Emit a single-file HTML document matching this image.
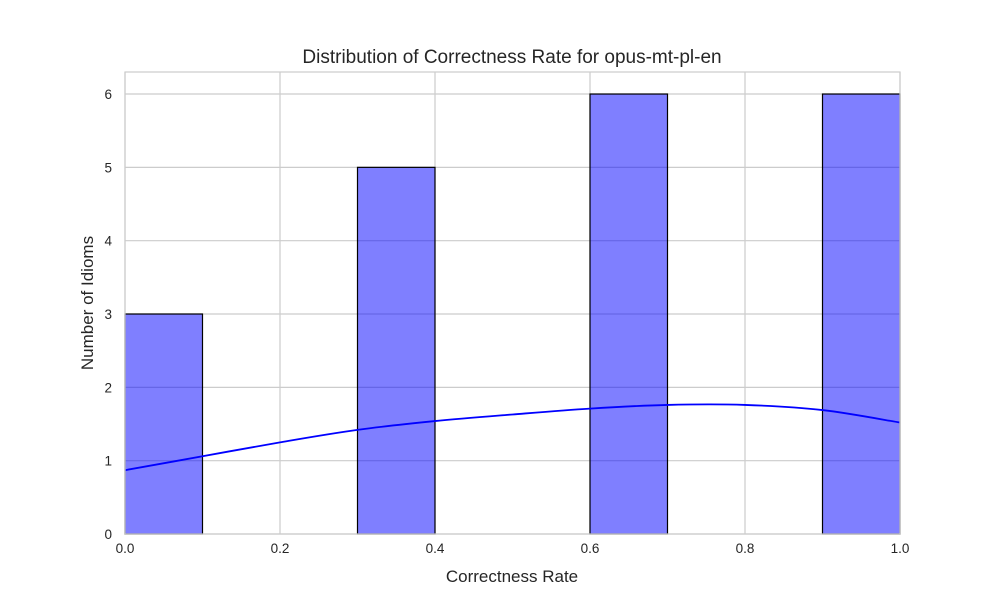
<!DOCTYPE html>
<html><head><meta charset="utf-8"><style>
body{margin:0;background:#fff;font-family:"Liberation Sans",sans-serif;}
</style></head><body>
<svg width="1000" height="600" xmlns="http://www.w3.org/2000/svg">
<rect width="1000" height="600" fill="#fff"/>
<g id="grid"></g>
<g id="bars"></g>
<path id="kde" fill="none" stroke="#0000ff" stroke-width="1.8"/>
<rect x="125" y="72" width="775" height="462" fill="none" stroke="#cccccc" stroke-width="1.2"/>
<g id="ticks" font-size="13.5" fill="#262626"></g>
<text x="512" y="63" font-size="19" text-anchor="middle" fill="#262626">Distribution of Correctness Rate for opus-mt-pl-en</text>
<text x="512" y="582" font-size="17" text-anchor="middle" fill="#262626">Correctness Rate</text>
<text x="93" y="303" font-size="17" text-anchor="middle" fill="#262626" transform="rotate(-90 93 303)">Number of Idioms</text>
</svg>
<script>
const binEdges=[0,0.1,0.2,0.3,0.4,0.5,0.6,0.7,0.8,0.9,1.0];
const counts=[3,0,0,5,0,0,6,0,0,6];
const kdeX=[0,0.1,0.2,0.3,0.4,0.5,0.6,0.7,0.8,0.9,1.0];
const kdeY=[0.87,1.06,1.25,1.42,1.54,1.63,1.71,1.76,1.76,1.69,1.52];
const xTicks=[0,0.2,0.4,0.6,0.8,1.0];
const yTicks=[0,1,2,3,4,5,6];
const X=v=>125+v*775, Y=v=>534-v*73.33;
const ns="http://www.w3.org/2000/svg";
const g=document.getElementById('grid'),b=document.getElementById('bars'),t=document.getElementById('ticks');
function mk(tag,attrs,parent){const e=document.createElementNS(ns,tag);for(const k in attrs)e.setAttribute(k,attrs[k]);parent.appendChild(e);return e;}
xTicks.forEach(v=>{const l=mk('line',{x1:X(v),x2:X(v),y1:72,y2:534,stroke:'#cccccc','stroke-width':1.2},g);

const s=mk('text',{x:X(v),y:553,'text-anchor':'middle'},t);s.textContent=v.toFixed(1);
});
yTicks.forEach(v=>{const l=mk('line',{x1:125,x2:900,y1:Y(v),y2:Y(v),stroke:'#cccccc','stroke-width':1.2},g);

const s=mk('text',{x:112,y:Y(v)+5,'text-anchor':'end'},t);s.textContent=v;
});
counts.forEach((c,i)=>{if(!c)return;const r=mk('rect',{x:X(binEdges[i]),y:Y(c),width:X(binEdges[i+1])-X(binEdges[i]),height:Y(0)-Y(c),fill:'rgba(0,0,255,0.5)',stroke:'#000','stroke-width':1.2},b);
});
const P=kdeX.map((x,i)=>[X(x),Y(kdeY[i])]);
let d='M'+P[0][0]+' '+P[0][1];
for(let i=0;i<P.length-1;i++){const p0=P[Math.max(i-1,0)],p1=P[i],p2=P[i+1],p3=P[Math.min(i+2,P.length-1)];
d+=' C'+(p1[0]+(p2[0]-p0[0])/6)+' '+(p1[1]+(p2[1]-p0[1])/6)+' '+(p2[0]-(p3[0]-p1[0])/6)+' '+(p2[1]-(p3[1]-p1[1])/6)+' '+p2[0]+' '+p2[1];}
document.getElementById('kde').setAttribute('d',d);
</script>
</body></html>
